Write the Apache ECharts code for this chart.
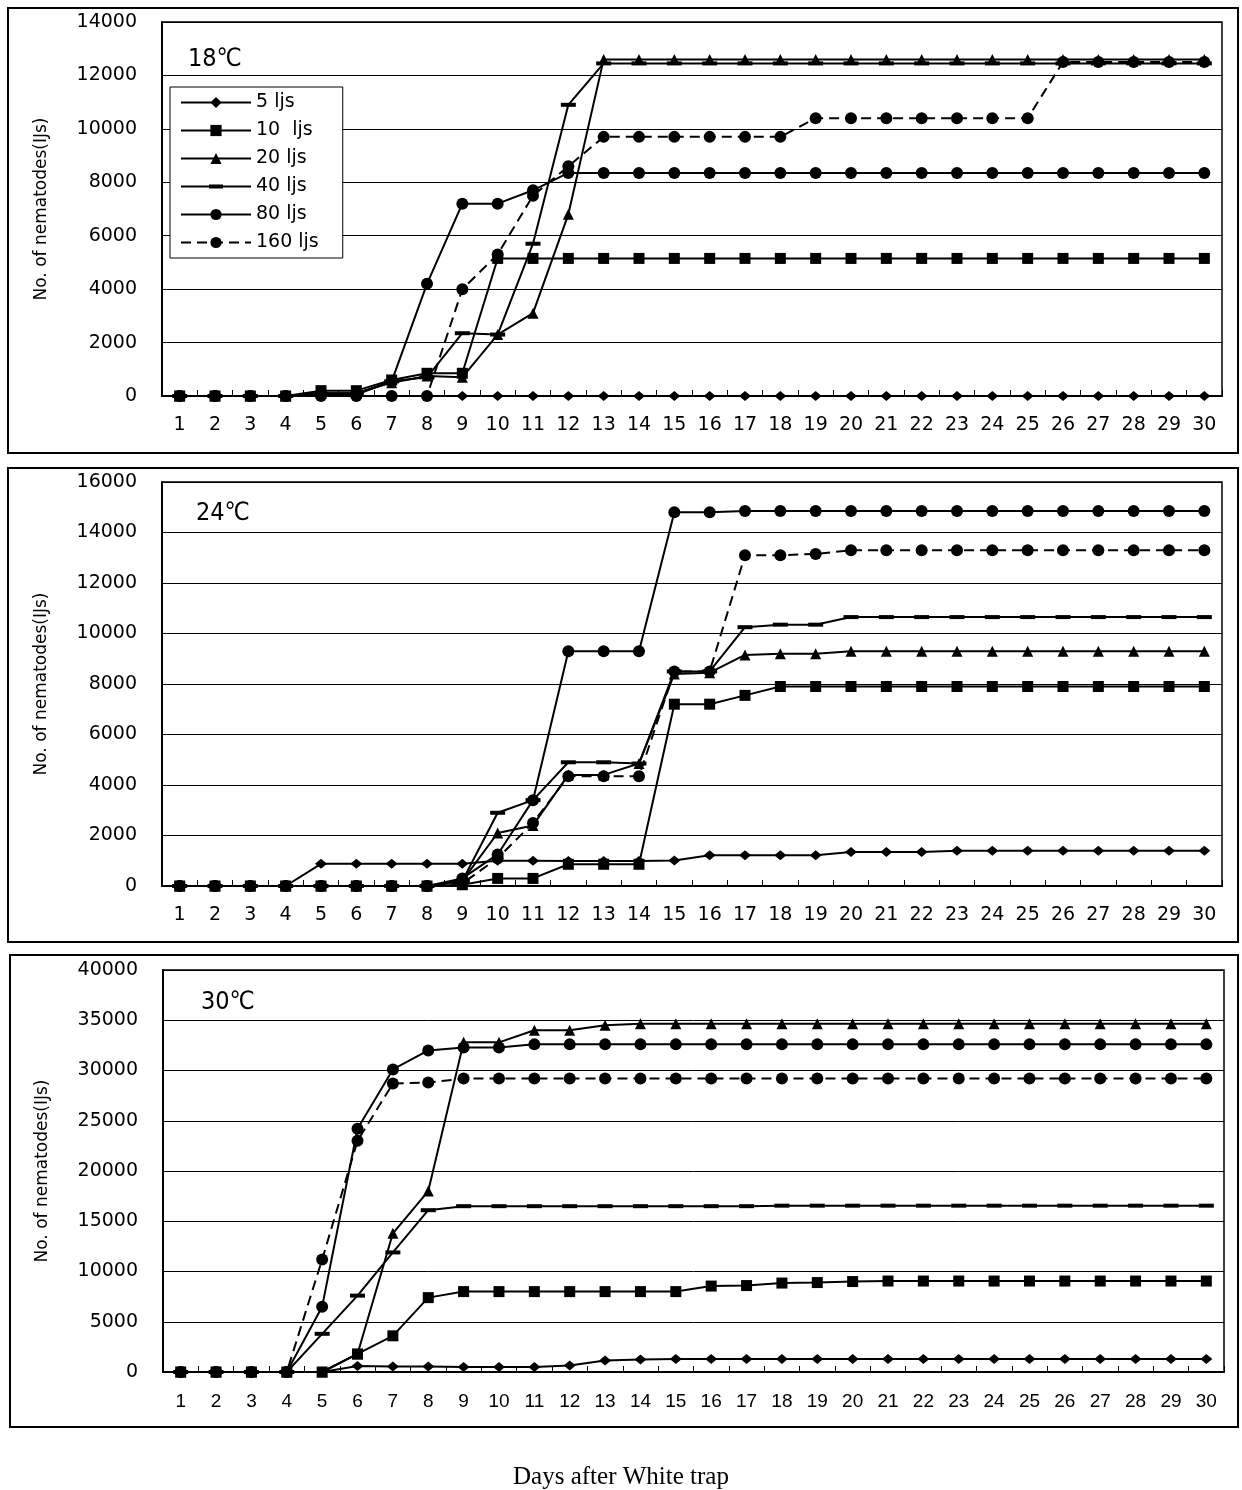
<!DOCTYPE html>
<html>
<head>
<meta charset="utf-8">
<script src="https://cdn.jsdelivr.net/npm/echarts@6/dist/echarts.min.js"></script>
<style>
  html, body { margin: 0; padding: 0; background: #fff; }
  #main { width: 1242px; height: 1490px; }
</style>
</head>
<body>
<div id="main"></div>
<script>
// day labels on the x axis
const days = ['1','2','3','4','5','6','7','8','9','10','11','12','13','14','15',
              '16','17','18','19','20','21','22','23','24','25','26','27','28','29','30'];
const seriesNames = ['5 ljs', '10  ljs', '20 ljs', '40 ljs', '80 ljs', '160 ljs'];
const panelTitles = ['18℃', '24℃', '30℃'];

// 18 C
const ljs5_18   = [0,0,0,0,0,0,0,0,0,0,0,0,0,0,0,0,0,0,0,0,0,0,0,0,0,0,0,0,0,0];
const ljs10_18  = [0,0,0,0,200,200,600,850,850,5150,5150,5150,5150,5150,5150,5150,5150,5150,5150,5150,5150,5150,5150,5150,5150,5150,5150,5150,5150,5150];
const ljs20_18  = [0,0,0,0,100,100,500,750,700,2300,3100,6800,12600,12600,12600,12600,12600,12600,12600,12600,12600,12600,12600,12600,12600,12600,12600,12600,12600,12600];
const ljs40_18  = [0,0,0,0,50,50,550,700,2350,2300,5700,10900,12450,12450,12450,12450,12450,12450,12450,12450,12450,12450,12450,12450,12450,12450,12450,12450,12450,12450];
const ljs80_18  = [0,0,0,0,100,100,550,4200,7200,7200,7700,8350,8350,8350,8350,8350,8350,8350,8350,8350,8350,8350,8350,8350,8350,8350,8350,8350,8350,8350];
const ljs160_18 = [0,0,0,0,0,0,0,0,4000,5300,7500,8600,9700,9700,9700,9700,9700,9700,10400,10400,10400,10400,10400,10400,10400,12500,12500,12500,12500,12500];

// 24 C
const ljs5_24   = [0,0,0,0,880,880,880,880,880,1000,1000,990,990,990,1010,1220,1220,1220,1220,1350,1350,1350,1400,1400,1400,1400,1400,1400,1400,1400];
const ljs10_24  = [0,0,0,0,0,0,0,0,50,300,300,860,860,860,7200,7200,7550,7900,7900,7900,7900,7900,7900,7900,7900,7900,7900,7900,7900,7900];
const ljs20_24  = [0,0,0,0,0,0,0,0,200,2100,2400,4400,4400,4850,8400,8450,9150,9200,9200,9300,9300,9300,9300,9300,9300,9300,9300,9300,9300,9300];
const ljs40_24  = [0,0,0,0,0,0,0,0,200,2900,3400,4900,4900,4850,8500,8500,10250,10350,10350,10650,10650,10650,10650,10650,10650,10650,10650,10650,10650,10650];
const ljs80_24  = [0,0,0,0,0,0,0,0,300,1250,3400,9300,9300,9300,14800,14800,14850,14850,14850,14850,14850,14850,14850,14850,14850,14850,14850,14850,14850,14850];
const ljs160_24 = [0,0,0,0,0,0,0,0,100,1100,2500,4350,4350,4350,8500,8500,13100,13100,13150,13300,13300,13300,13300,13300,13300,13300,13300,13300,13300,13300];

// 30 C
const ljs5_30   = [0,0,0,0,0,600,550,550,500,500,500,650,1150,1250,1300,1300,1300,1300,1300,1300,1300,1300,1300,1300,1300,1300,1300,1300,1300,1300];
const ljs10_30  = [0,0,0,0,0,1800,3600,7400,8000,8000,8000,8000,8000,8000,8000,8550,8600,8850,8900,9000,9050,9050,9050,9050,9050,9050,9050,9050,9050,9050];
const ljs20_30  = [0,0,0,0,0,1800,13800,18000,32800,32800,34000,34000,34500,34650,34650,34650,34650,34650,34650,34650,34650,34650,34650,34650,34650,34650,34650,34650,34650,34650];
const ljs40_30  = [0,0,0,0,3800,7600,11900,16100,16500,16500,16500,16500,16500,16500,16500,16500,16500,16550,16550,16550,16550,16550,16550,16550,16550,16550,16550,16550,16550,16550];
const ljs80_30  = [0,0,0,0,6500,24200,30100,32000,32300,32300,32600,32600,32600,32600,32600,32600,32600,32600,32600,32600,32600,32600,32600,32600,32600,32600,32600,32600,32600,32600];
const ljs160_30 = [0,0,0,0,11200,23000,28700,28800,29200,29200,29200,29200,29200,29200,29200,29200,29200,29200,29200,29200,29200,29200,29200,29200,29200,29200,29200,29200,29200,29200];

const panelData = [
    [ljs5_18, ljs10_18, ljs20_18, ljs40_18, ljs80_18, ljs160_18],
    [ljs5_24, ljs10_24, ljs20_24, ljs40_24, ljs80_24, ljs160_24],
    [ljs5_30, ljs10_30, ljs20_30, ljs40_30, ljs80_30, ljs160_30]
];
const yMax = [14000, 16000, 40000];
const yStep = [2000, 2000, 5000];

let myChart = echarts.init(document.getElementById('main'));

// marker look for each of the six series (40 ljs uses a short flat bar)
const marks = [
    { symbol: 'diamond', size: [12, 10], dashed: false },
    { symbol: 'rect', size: 11, dashed: false },
    { symbol: 'triangle', size: 11, dashed: false },
    { symbol: 'rect', size: [15, 4], dashed: false },
    { symbol: 'circle', size: 12, dashed: false },
    { symbol: 'circle', size: 12, dashed: true }
];

// legend icon for 40 ljs: line with a short bar in the middle (tiny corners keep the 70x14 box)
const dashIcon = 'path://M0,0 L0.01,0 L0,0.01 Z M0,14 L0.01,14 L0,13.99 Z ' +
                 'M0,6 L70,6 L70,8 L0,8 Z M28,5 L42,5 L42,9 L28,9 Z';

const grids = [
    { left: 162, top: 22, width: 1060, height: 374 },
    { left: 162, top: 482, width: 1060, height: 404 },
    { left: 163, top: 970, width: 1061, height: 402 }
];

let xAxes = [], yAxes = [], series = [];
grids.forEach((g, p) => {
    g.show = true;
    g.borderColor = '#000';
    g.borderWidth = 1.5;
    xAxes.push({
        type: 'category',
        gridIndex: p,
        data: days,
        boundaryGap: true,
        axisLine: { lineStyle: { color: '#000', width: 2 } },
        axisTick: { show: true, inside: true, length: 6, lineStyle: { color: '#000' } },
        axisLabel: {
            interval: 0,
            margin: 20,
            color: '#000',
            fontSize: 19,
            fontFamily: p == 2 ? '"Liberation Sans Narrow", "Liberation Sans", sans-serif' : '"DejaVu Sans", sans-serif'
        }
    });
    yAxes.push({
        type: 'value',
        gridIndex: p,
        min: 0,
        max: yMax[p],
        interval: yStep[p],
        name: 'No. of nematodes(IJs)',
        nameLocation: 'middle',
        nameGap: 112,
        nameTextStyle: { color: '#000', fontSize: 17, fontFamily: '"DejaVu Sans", sans-serif' },
        axisLine: { show: true, lineStyle: { color: '#000', width: 2 } },
        axisTick: { show: false },
        axisLabel: {
            margin: 25, color: '#000', fontSize: 19, fontFamily: '"DejaVu Sans", sans-serif',
            formatter: function (v) { return String(v); }
        },
        splitLine: { show: true, lineStyle: { color: '#000', width: 1 } }
    });
    panelData[p].forEach((vals, i) => {
        series.push({
            name: seriesNames[i],
            type: 'line',
            xAxisIndex: p,
            yAxisIndex: p,
            data: vals,
            symbol: marks[i].symbol,
            symbolSize: marks[i].size,
            showAllSymbol: true,
            itemStyle: { color: '#000', borderWidth: 0 },
            lineStyle: { color: '#000', width: 2, type: marks[i].dashed ? [10, 6] : 'solid' },
            emphasis: { disabled: true }
        });
    });
});

let legendData = seriesNames.map(n => n == '40 ljs' ? { name: n, icon: dashIcon, itemStyle: { color: '#000' } } : { name: n });

let option = {
    animation: false,
    backgroundColor: '#fff',
    title: [
        { text: panelTitles[0], left: 183, top: 42, textStyle: { fontSize: 25, fontWeight: 'normal', color: '#000', fontFamily: '"Liberation Sans Narrow", "DejaVu Sans Condensed", sans-serif' } },
        { text: panelTitles[1], left: 191, top: 496, textStyle: { fontSize: 25, fontWeight: 'normal', color: '#000', fontFamily: '"Liberation Sans Narrow", "DejaVu Sans Condensed", sans-serif' } },
        { text: panelTitles[2], left: 196, top: 985, textStyle: { fontSize: 25, fontWeight: 'normal', color: '#000', fontFamily: '"Liberation Sans Narrow", "DejaVu Sans Condensed", sans-serif' } },
        { text: 'Days after White trap', left: 'center', top: 1460, textStyle: { fontSize: 25, fontWeight: 'normal', color: '#000', fontFamily: '"Liberation Serif", serif' } }
    ],
    legend: {
        data: legendData,
        orient: 'vertical',
        left: 170,
        top: 87,
        padding: [5, 24, 5, 10],
        itemWidth: 70,
        itemHeight: 14,
        itemGap: 7,
        borderColor: '#000',
        borderWidth: 1,
        backgroundColor: '#fff',
        selectedMode: false,
        textStyle: { fontSize: 19, lineHeight: 21, color: '#000', fontFamily: '"DejaVu Sans", sans-serif' }
    },
    graphic: [
        { type: 'rect', shape: { x: 8, y: 8, width: 1230, height: 445 }, style: { fill: 'none', stroke: '#000', lineWidth: 2 }, z: -1 },
        { type: 'rect', shape: { x: 8, y: 468, width: 1230, height: 474 }, style: { fill: 'none', stroke: '#000', lineWidth: 2 }, z: -1 },
        { type: 'rect', shape: { x: 10, y: 955, width: 1228, height: 472 }, style: { fill: 'none', stroke: '#000', lineWidth: 2 }, z: -1 }
    ],
    grid: grids,
    xAxis: xAxes,
    yAxis: yAxes,
    series: series
};
myChart.setOption(option);
</script>
</body>
</html>
